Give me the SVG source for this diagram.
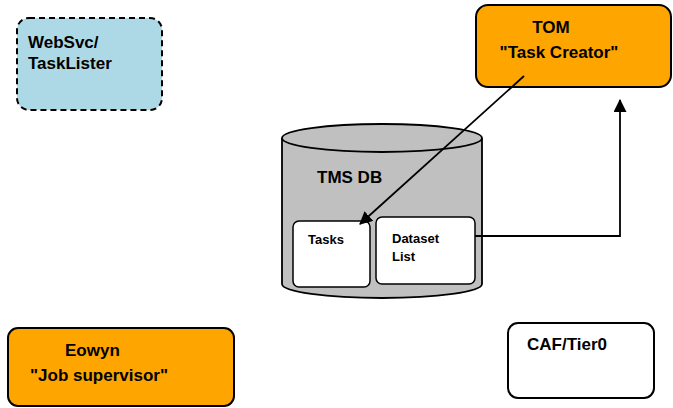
<svg xmlns="http://www.w3.org/2000/svg" width="673" height="408" viewBox="0 0 673 408">
<defs>
<style>
.t{font-family:"Liberation Sans",Arial,sans-serif;font-weight:bold;fill:#000}
.big{font-size:17px}
.sm{font-size:13px}
.box{stroke:#000;stroke-width:2}
.conn{stroke:#000;stroke-width:1.8;fill:none}
</style>
<marker id="arr" viewBox="0 0 12 12" refX="11" refY="6" markerWidth="13" markerHeight="13" markerUnits="userSpaceOnUse" orient="auto">
<path d="M0,0 L12,6 L0,12 z" fill="#000"/>
</marker>
</defs>
<rect width="673" height="408" fill="#fff"/>
<g id="websvc">
<rect class="box" x="17" y="18" width="145" height="92" rx="12" fill="#ADD8E6" stroke-dasharray="6,4"/>
<text class="t big" x="28" y="48">WebSvc/</text>
<text class="t big" x="28" y="69">TaskLister</text>
</g>
<g id="tom">
<rect class="box" x="476" y="5" width="195" height="82" rx="12" fill="#FFA500"/>
<text class="t big" x="551" y="33" text-anchor="middle">TOM</text>
<text class="t big" x="559" y="58" text-anchor="middle">"Task Creator"</text>
</g>
<g id="tmsdb">
<path d="M282,138 L282,284 A100,14 0 0 0 482,284 L482,138" fill="#C0C0C0" stroke="#000" stroke-width="1.8"/>
<ellipse cx="382" cy="138" rx="100" ry="14" fill="#C0C0C0" stroke="#000" stroke-width="1.8"/>
<text class="t big" x="317" y="183">TMS DB</text>
</g>
<g id="tasks">
<rect x="293" y="221" width="77" height="66" rx="6" fill="#fff" stroke="#000" stroke-width="1.5"/>
<text class="t sm" x="308" y="244">Tasks</text>
</g>
<g id="dataset">
<rect x="376" y="217" width="99" height="67" rx="6" fill="#fff" stroke="#000" stroke-width="1.5"/>
<text class="t sm" x="392" y="243">Dataset</text>
<text class="t sm" x="392" y="261">List</text>
</g>
<g id="eowyn">
<rect class="box" x="8" y="328" width="226" height="78" rx="10" fill="#FFA500"/>
<text class="t big" x="65" y="356">Eowyn</text>
<text class="t big" x="30" y="381">"Job supervisor"</text>
</g>
<g id="caf">
<rect class="box" x="508" y="323" width="146" height="75" rx="10" fill="#fff"/>
<text class="t big" x="527" y="350">CAF/Tier0</text>
</g>
<g id="connectors">
<line class="conn" x1="524" y1="76" x2="360" y2="224" marker-end="url(#arr)"/>
<polyline class="conn" points="475,236 620,236 620,100" marker-end="url(#arr)"/>
</g>
</svg>
